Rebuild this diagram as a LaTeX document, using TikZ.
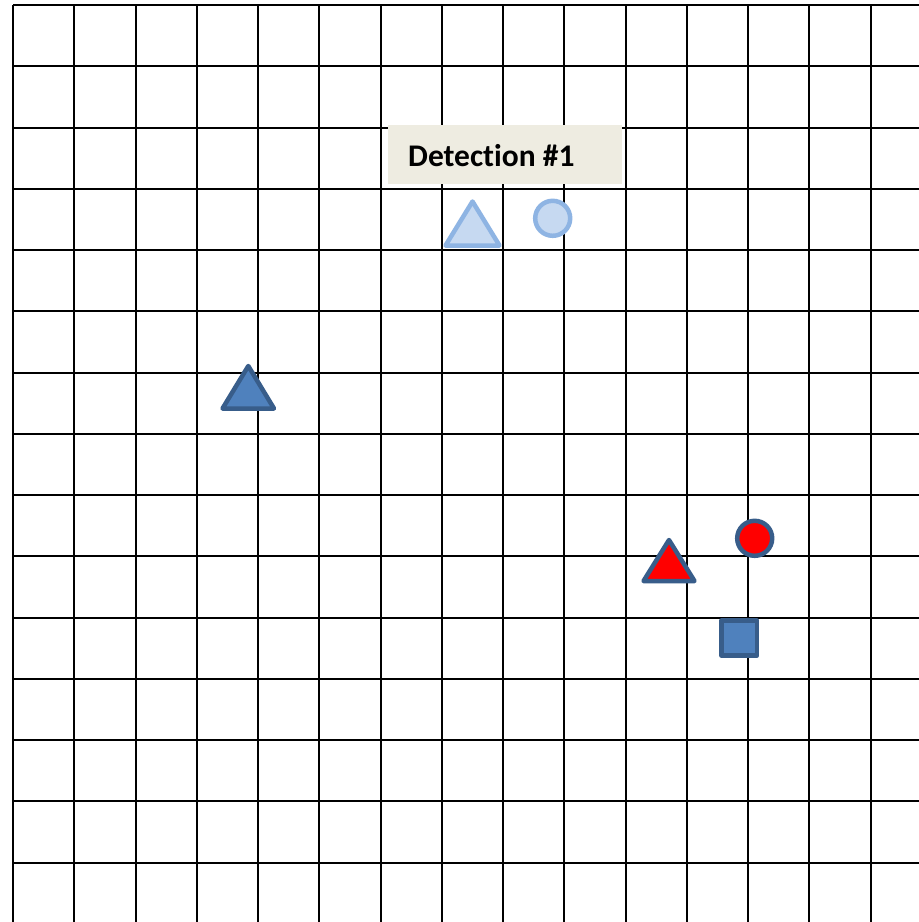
\documentclass[tikz,border=0pt]{standalone}
\usepackage{fontspec}
\setmainfont{Carlito}[Ligatures={NoCommon}]
\definecolor{lightfill}{HTML}{C6D9F1}
\definecolor{lightline}{HTML}{8EB4E3}
\definecolor{darkfill}{HTML}{4F81BD}
\definecolor{darkline}{HTML}{385D8A}
\definecolor{tanbg}{HTML}{EEECE1}
\tikzset{
  gridline/.style={black, line width=2pt},
  lightshape/.style={fill=lightfill, draw=lightline, line width=4.5pt, line join=round},
  darkshape/.style={fill=darkfill, draw=darkline, line width=4.5pt, line join=round},
  redshape/.style={fill=red, draw=darkline, line width=4.5pt, line join=round},
  labelbox/.style={fill=tanbg, anchor=north west, minimum width=234pt, minimum height=59pt,
    inner sep=0pt},
  labeltext/.style={anchor=base west, inner sep=0pt, font=\fontsize{31.5}{36}\selectfont\bfseries}
}
\begin{document}
\begin{tikzpicture}[x=1pt, y=-1pt]
\useasboundingbox (0,0) rectangle (919,922);
\fill[white] (0,0) rectangle (919,922);
\begin{scope}
\clip (0,0) rectangle (919,922);
\foreach \k in {0,...,14} {
  \draw[gridline] ({13+61.25*\k},5) -- ({13+61.25*\k},930);
  \draw[gridline] (13,{5+61.25*\k}) -- (930,{5+61.25*\k});
}
\end{scope}
\node[labelbox] (det) at (388,125) {};
\node[labeltext] (dettext) at (408,166) {Detection \#1};
% light detection shapes
\path[lightshape] (472.5,201.5) -- (445.5,245.5) -- (499.5,245.5) -- cycle;
\path[lightshape] (552.7,218.3) circle[radius=17.5pt];
% dark triangle
\path[darkshape] (248.3,366) -- (222.5,408.5) -- (274,408.5) -- cycle;
% red triangle and circle
\path[redshape] (669,540) -- (643.5,581) -- (694.5,581) -- cycle;
\path[redshape] (754.7,538.3) circle[radius=17.5pt];
% square
\path[darkshape] (721.5,620.5) rectangle (757,655.5);
\end{tikzpicture}
\end{document}
